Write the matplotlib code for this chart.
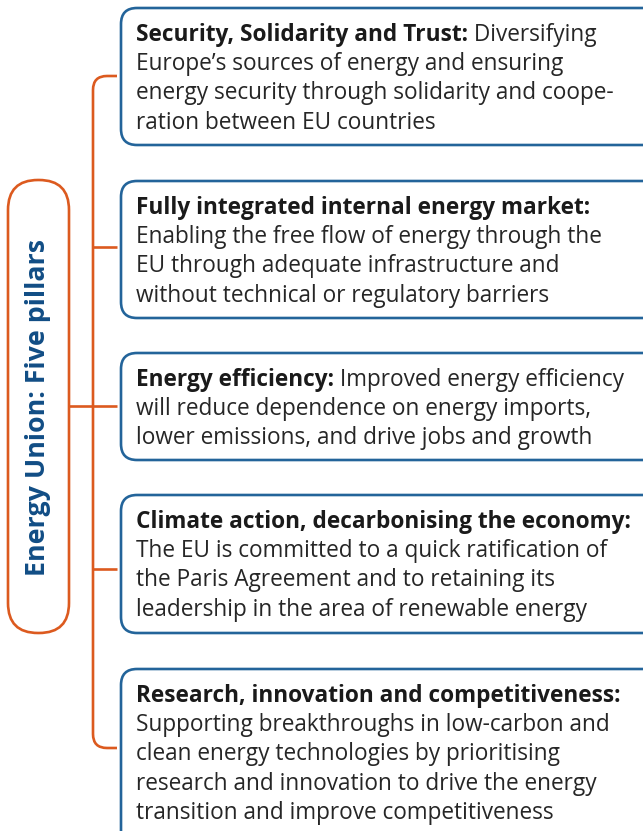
import matplotlib
matplotlib.use("Agg")
import matplotlib.pyplot as plt
from matplotlib.patches import FancyBboxPatch
from matplotlib.path import Path
from matplotlib.patches import PathPatch

W, H = 643, 831
title = "Energy Union: Five pillars"

headings = [
    "Security, Solidarity and Trust:",
    "Fully integrated internal energy market:",
    "Energy efficiency:",
    "Climate action, decarbonising the economy:",
    "Research, innovation and competitiveness:",
]
first_line_rest = [
    " Diversifying",
    "",
    " Improved energy efficiency",
    "",
    "",
]
body_lines = [
    ["Europe\u2019s sources of energy and ensuring",
     "energy security through solidarity and coope-",
     "ration between EU countries"],
    ["Enabling the free flow of energy through the",
     "EU through adequate infrastructure and",
     "without technical or regulatory barriers"],
    ["will reduce dependence on energy imports,",
     "lower emissions, and drive jobs and growth"],
    ["The EU is committed to a quick ratification of",
     "the Paris Agreement and to retaining its",
     "leadership in the area of renewable energy"],
    ["Supporting breakthroughs in low-carbon and",
     "clean energy technologies by prioritising",
     "research and innovation to drive the energy",
     "transition and improve competitiveness"],
]

# layout (pixels)
box_top = [8, 181, 353, 495, 669]
box_bot = [145, 318, 460, 633, 860]
box_left = 121
box_right = 660
line_gap = 29.2
ORANGE = "#dc5a1f"
BLUE = "#23649a"
TITLE_BLUE = "#114d85"
TEXT = "#262626"
FONT = "Open Sans"
FS = 16.3

fig = plt.figure(figsize=(W / 100, H / 100), dpi=100)
ax = fig.add_axes([0, 0, 1, 1])
ax.set_xlim(0, W)
ax.set_ylim(H, 0)
ax.axis("off")

# boxes
for t, b in zip(box_top, box_bot):
    ax.add_patch(FancyBboxPatch((box_left, t), box_right - box_left, b - t,
                                boxstyle="round,pad=0,rounding_size=16",
                                fc="white", ec=BLUE, lw=1.9, zorder=2))

# bracket
bx, by0, by1, r, bend = 93, 76, 748, 14, 117
verts = [(bend, by0), (bx + r, by0), (bx, by0), (bx, by0 + r),
         (bx, by1 - r), (bx, by1), (bx + r, by1), (bend, by1)]
codes = [Path.MOVETO, Path.LINETO, Path.CURVE3, Path.CURVE3,
         Path.LINETO, Path.CURVE3, Path.CURVE3, Path.LINETO]
ax.add_patch(PathPatch(Path(verts, codes), fc="none", ec=ORANGE, lw=1.9, zorder=1))
for yy in [247, 569]:
    ax.plot([bx, bend], [yy, yy], color=ORANGE, lw=1.9, zorder=1, solid_capstyle="butt")
ax.plot([69, bend], [406, 406], color=ORANGE, lw=1.9, zorder=1, solid_capstyle="butt")

# pill
px0, px1, py0, py1 = 8, 69, 180, 633
ax.add_patch(FancyBboxPatch((px0, py0), px1 - px0, py1 - py0,
                            boxstyle="round,pad=0,rounding_size=30",
                            fc="white", ec=ORANGE, lw=1.9, zorder=2))
ax.text((px0 + px1) / 2 - 0.5, (py0 + py1) / 2 + 1, title, rotation=90, ha="center", va="center",
        fontsize=19.3, fontweight="bold", color=TITLE_BLUE, family=FONT, zorder=3)

fig.canvas.draw()
renderer = fig.canvas.get_renderer()
inv = ax.transData.inverted()

tx = 136
for i in range(5):
    y = box_top[i] + 24
    h = ax.text(tx, y, headings[i], ha="left", va="center_baseline", fontsize=FS,
                fontweight="bold", color="#1a1a1a", family=FONT, zorder=3)
    if first_line_rest[i]:
        bb = h.get_window_extent(renderer=renderer)
        x_end = inv.transform((bb.x1, bb.y0))[0]
        ax.text(x_end, y, first_line_rest[i], ha="left", va="center_baseline", fontsize=FS,
                color=TEXT, family=FONT, zorder=3)
    for j, line in enumerate(body_lines[i]):
        ax.text(tx, y + line_gap * (j + 1), line, ha="left", va="center_baseline",
                fontsize=FS, color=TEXT, family=FONT, zorder=3)

fig.savefig("out.png", dpi=100)
